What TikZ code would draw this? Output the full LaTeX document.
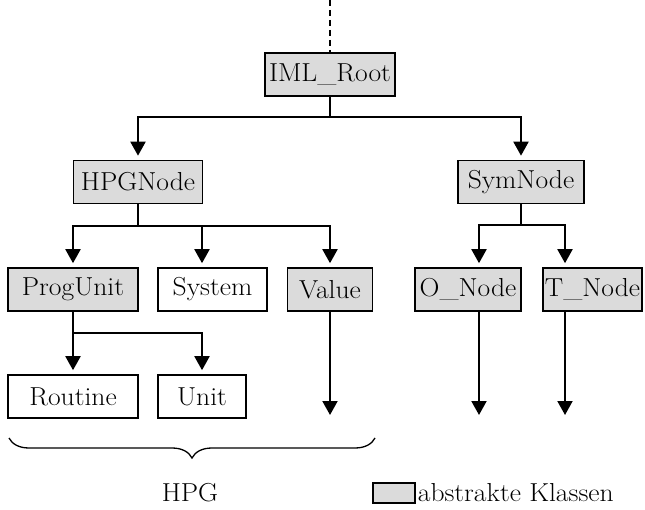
\documentclass[tikz,border=0pt]{standalone}
\usepackage{fontspec}
\setmainfont{Latin Modern Roman}[FakeStretch=1.06]
\usetikzlibrary{arrows.meta,positioning,calc,decorations.pathreplacing}
\tikzset{
  klasse/.style={draw, line width=1.6pt, minimum height=43pt, inner xsep=1pt, inner ysep=2pt, font=\fontsize{26}{29}\selectfont},
  aklasse/.style={klasse, fill=black!14},
  arrow/.style={-{Triangle[length=14pt,width=15pt]}, line width=2pt, shorten >=4pt},
  conn/.style={line width=2pt}
}
\begin{document}
\begin{tikzpicture}[x=1pt, y=-1pt]
  \useasboundingbox (0,0) rectangle (645,510);
  % Klassen
  \node[aklasse, minimum width=130pt] (root) at (330,74.5) {IML\_Root};
  \node[aklasse, minimum width=129pt] (hpg) at (138,182) {HPGNode};
  \node[aklasse, minimum width=126pt] (sym) at (521,182) {SymNode};
  \node[aklasse, minimum width=130pt] (prog) at (73,289.5) {ProgUnit};
  \node[klasse, minimum width=109pt] (system) at (212.5,289.5) {System};
  \node[aklasse, minimum width=85pt] (value) at (330,289.5) {Value};
  \node[aklasse, minimum width=106pt] (onode) at (468,289.5) {O\_Node};
  \node[aklasse, minimum width=99pt] (tnode) at (592.5,289.5) {T\_Node};
  \node[klasse, minimum width=130pt] (routine) at (73,396.5) {Routine};
  \node[klasse, minimum width=88pt] (unit) at (202,396.5) {Unit};
  % freie Enden
  \coordinate (top) at (330,0);
  \coordinate (vend) at (330,415);
  \coordinate (oend) at (479,415);
  \coordinate (tend) at (565,415);
  \draw[conn, dash pattern=on 6pt off 4pt] (top) -- (root.north);
  % Vererbung
  \draw[conn] (root.south) -- ++(0,20) coordinate (j1);
  \draw[arrow] (j1) -| (hpg.north);
  \draw[arrow] (j1) -| (sym.north);
  \draw[conn] (hpg.south) -- ++(0,22) coordinate (j2);
  \draw[arrow] (j2) -| (prog.north);
  \draw[arrow] (j2) -| ([xshift=-10.5pt]system.north);
  \draw[arrow] (j2) -| (value.north);
  \draw[conn] (sym.south) -- ++(0,21) coordinate (j3);
  \draw[arrow] (j3) -| ([xshift=11pt]onode.north);
  \draw[arrow] (j3) -| ([xshift=-27.5pt]tnode.north);
  \draw[conn] (prog.south) -- ++(0,21) coordinate (j4);
  \draw[arrow] (j4) -| (routine.north);
  \draw[arrow] (j4) -| (unit.north);
  \draw[arrow, shorten >=0pt] (value.south) -- (vend);
  \draw[arrow, shorten >=0pt] ([xshift=11pt]onode.south) -- (oend);
  \draw[arrow, shorten >=0pt] ([xshift=-27.5pt]tnode.south) -- (tend);
  % HPG-Klammer und Legende
  \coordinate (bl) at (9,438);
  \coordinate (br) at (375,438);
  \draw[decorate, decoration={brace, mirror, amplitude=20pt}, line width=1.3pt] (bl) -- (br);
  \node[font=\fontsize{26}{29}\selectfont] (hpglabel) at (190,493) {HPG};
  \node[aklasse, minimum width=42pt, minimum height=20pt, line width=1.3pt] (legbox) at (394,493) {};
  \node[right=2pt of legbox, font=\fontsize{26}{29}\selectfont, inner sep=0pt] (legtext) {abstrakte Klassen};
\end{tikzpicture}
\end{document}
